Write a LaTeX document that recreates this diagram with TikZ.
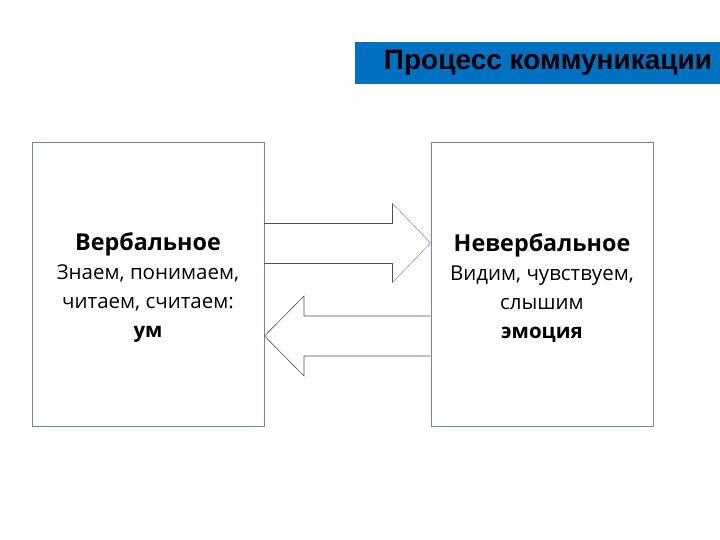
\documentclass[tikz,border=0pt]{standalone}
\usepackage{fontspec}
\setmainfont{Open Sans}
\newfontfamily\titlefont{Liberation Sans}
\usetikzlibrary{positioning}
\definecolor{titleblue}{RGB}{0, 112, 192}
\definecolor{boxline}{RGB}{100, 140, 170}
\definecolor{arrowline}{RGB}{70, 80, 90}
\definecolor{headline}{RGB}{150, 150, 150}
\newcommand{\headword}[1]{{\fontsize{23.3}{29}\selectfont\bfseries #1}}
\tikzset{
  sidebox/.style={rectangle, draw=boxline, fill=white, line width=0.9pt,
              minimum width=#1, minimum height=284, inner sep=0pt},
  sidebox/.default=232,
  boxtext/.style={align=center, font=\fontsize{20.5}{29}\selectfont, inner sep=0pt},
  titlebox/.style={rectangle, fill=titleblue, minimum width=365, minimum height=42,
              font=\titlefont\bfseries\fontsize{28}{30}\selectfont, text=black},
  blockarrow/.style={draw=arrowline, line width=0.6pt, line join=miter},
}

\begin{document}
\begin{tikzpicture}[x=1pt, y=-1pt]
  \useasboundingbox (0,0) rectangle (720,540);

  \node[titlebox] (title) at (537.5,63) {\hspace*{21pt}Процесс коммуникации};

  \node[sidebox] (verb) at (148,284) {};
  \node[sidebox=222] (nonverb) at (542,284) {};

  \node[boxtext] (verbtext) at (148,288)
        {\headword{Вербальное}\\Знаем, понимаем,\\читаем, считаем:\\\textbf{ум}};
  \node[boxtext] (nonverbtext) at (542,288)
        {\headword{Невербальное}\\Видим, чувствуем,\\слышим\\\textbf{эмоция}};

  % block arrows between the boxes
  \draw[blockarrow] (verb.east |- 0,223) -- (392,223) -- (392,203);
  \draw[blockarrow] (392,283) -- (392,263) -- (verb.east |- 0,263);
  \draw[headline, line width=0.6pt] (392,203) -- (nonverb.west |- 0,243) -- (392,283);
  \draw[blockarrow] (nonverb.west |- 0,316) -- (304,316) -- (304,296) -- (verb.east |- 0,336)
        -- (304,376) -- (304,356) -- (nonverb.west |- 0,356);
\end{tikzpicture}
\end{document}
